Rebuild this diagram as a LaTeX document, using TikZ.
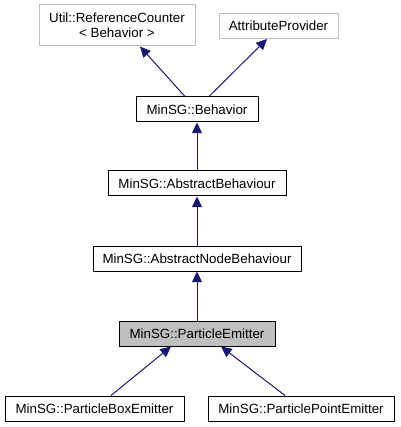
\documentclass[tikz,border=0pt]{standalone}
\usepackage{fontspec}
\setmainfont{Liberation Sans}
\usetikzlibrary{arrows.meta,calc}
\usepackage{xcolor}
\definecolor{edgeblue}{HTML}{191970}
\definecolor{extgray}{HTML}{BFBFBF}

\begin{document}
\begin{tikzpicture}[x=0.75pt,y=-0.75pt,
      font=\fontsize{10}{12}\selectfont,
      cls/.style={draw,line width=0.75pt,minimum height=18.75pt,
                  inner sep=0pt,align=center},
      ext/.style={cls,draw=extgray},
      edge/.style={draw=edgeblue,line width=0.75pt,
                   -{Triangle[width=7.5pt,length=8pt]}}]
    \useasboundingbox (0,0) rectangle (400,427);

    \node[ext,minimum width=117pt,minimum height=30.75pt] (refcnt) at (117,25.5)
      {Util::ReferenceCounter\\[-1pt]{\textless} Behavior {\textgreater}};
    \node[ext,minimum width=89.25pt] (attrprov) at (278.5,26) {AttributeProvider};
    \node[cls,minimum width=91.5pt]  (behavior) at (197,109.5) {MinSG::Behavior};
    \node[cls,minimum width=133.5pt] (absbeh)   at (197,183.5) {MinSG::AbstractBehaviour};
    \node[cls,minimum width=156pt]   (absnode)  at (197,258.5) {MinSG::AbstractNodeBehaviour};
    \node[cls,fill=extgray,minimum width=117pt] (emitter) at (197,333.5) {MinSG::ParticleEmitter};
    \node[cls,minimum width=134.25pt] (boxem)   at (94.5,408.5) {MinSG::ParticleBoxEmitter};
    \node[cls,minimum width=139.5pt]  (pointem) at (301,408.5) {MinSG::ParticlePointEmitter};

    % inheritance edges, child to parent
    \draw[edge] ($(behavior.north)+(-12,0)$) -- ($(refcnt.south)+(23,0)$);
    \draw[edge] ($(behavior.north)+(12,0)$) -- ($(attrprov.south)+(-11.5,0)$);
    \draw[edge] (absbeh) -- (behavior);
    \draw[edge] (absnode) -- (absbeh);
    \draw[edge] (emitter) -- (absnode);
    \draw[edge] ($(boxem.north)+(16.5,0)$) -- ($(emitter.south)+(-26,0)$);
    \draw[edge] ($(pointem.north)+(-16,0)$) -- ($(emitter.south)+(24,0)$);
  \end{tikzpicture}
\end{document}
